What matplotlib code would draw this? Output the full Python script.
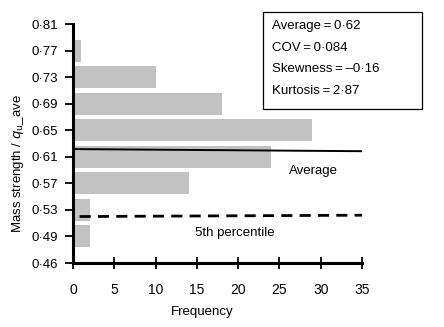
import matplotlib
matplotlib.use("Agg")
import matplotlib.pyplot as plt
from matplotlib.patches import Rectangle

plt.rcParams['font.family'] = ['Liberation Sans', 'DejaVu Sans']

# strength classes (evenly spaced on the axis) and their counts
tick_labels = ["0\u00b746", "0\u00b749", "0\u00b753", "0\u00b757", "0\u00b761",
               "0\u00b765", "0\u00b769", "0\u00b773", "0\u00b777", "0\u00b781"]
bin_labels = ["0\u00b749", "0\u00b753", "0\u00b757", "0\u00b761",
              "0\u00b765", "0\u00b769", "0\u00b773", "0\u00b777"]
counts = [2, 2, 14, 24, 29, 18, 10, 1]

average = 0.62
pct5 = 0.52
stats = ["Average\u2009=\u20090\u00b762", "COV\u2009=\u20090\u00b7084",
         "Skewness\u2009=\u2009\u20130\u00b716", "Kurtosis\u2009=\u20092\u00b787"]


def pos(v):
    # 0.49 sits on the second tick, classes are 0.04 apart
    return 1 + (v - 0.49) / 0.04


W, H = 444, 327
fig = plt.figure(figsize=(W / 100, H / 100), dpi=100)
ax = fig.add_axes([73 / W, 1 - 263 / H, 289 / W, 239 / H])

ypos = [tick_labels.index(b) for b in bin_labels]
ax.barh(ypos, counts, height=0.83, color="#c2c2c2", zorder=1)

ax.plot([0, 35], [pos(average) + 0.04, pos(average) - 0.04], color="black", lw=1.4, zorder=3)
ax.plot([0.8, 35], [pos(pct5), pos(pct5) + 0.05], color="black", lw=2,
        dashes=(4, 2.6), zorder=3)

ax.text(26.2, pos(average) - 0.8, "Average", fontsize=9.5, va="center")
ax.text(14.8, pos(pct5) - 0.62, "5th percentile", fontsize=9.5, va="center")

# statistics box, placed in figure pixels
fig.patches.append(Rectangle((263 / W, 1 - 109 / H), 159 / W, 97 / H,
                             transform=fig.transFigure, fc="white", ec="black",
                             lw=0.9, zorder=5))
for i, s in enumerate(stats):
    fig.text(272 / W, 1 - (26 + 21.7 * i) / H, s, fontsize=9.5, va="center", zorder=6)

ax.set_xlim(0, 35)
ax.set_ylim(0, 9)
ax.set_xticks(range(0, 36, 5))
ax.set_yticks(range(len(tick_labels)))
ax.set_yticklabels(tick_labels)
ax.tick_params(axis="x", direction="inout", length=8, width=1.3, labelsize=10, pad=10.5)
ax.tick_params(axis="y", direction="out", length=6, width=1.3, labelsize=9.5, pad=5)

for side in ["top", "right"]:
    ax.spines[side].set_visible(False)
for side in ["left", "bottom"]:
    ax.spines[side].set_linewidth(2.2)

ax.set_xlabel("Frequency", fontsize=9.5)
ax.xaxis.set_label_coords(0.446, -0.18)
ax.set_ylabel("Mass strength / $q_{\\mathrm{u}}$_ave", fontsize=9.5)
ax.yaxis.set_label_coords(-0.163, 0.418)

fig.savefig("out.png", dpi=100)
